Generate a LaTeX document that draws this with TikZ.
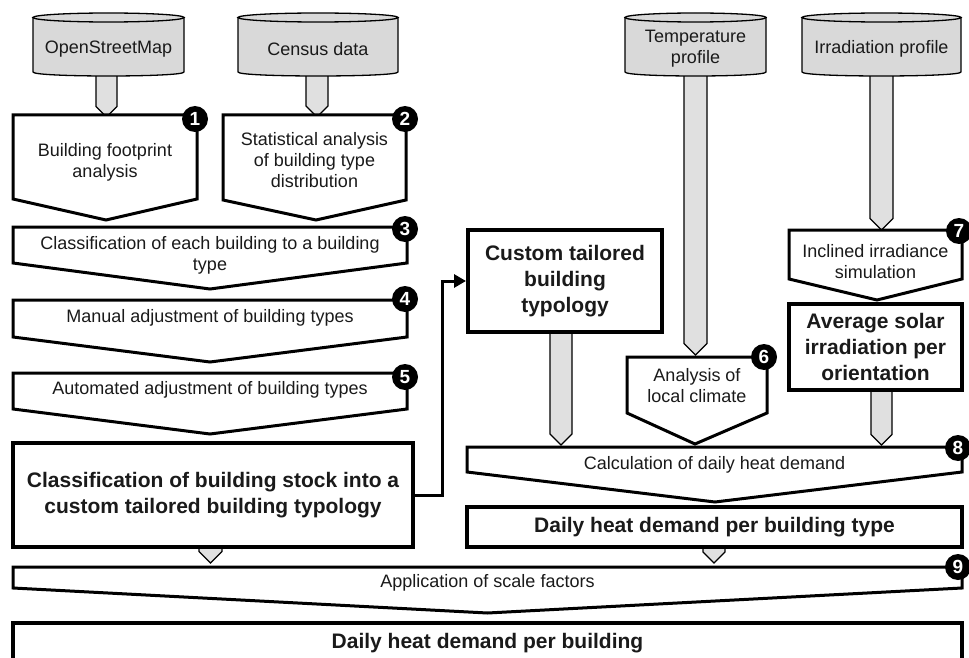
\documentclass[tikz,border=0pt]{standalone}
\usepackage{fontspec}
\setmainfont{Liberation Sans}
\usetikzlibrary{arrows.meta}
\definecolor{cylgray}{HTML}{D9D9D9}
\definecolor{shaftgray}{HTML}{E0E0E0}
\definecolor{textcol}{HTML}{1A1A1A}
\newcommand\procshape[5]{\draw[proc] (#1,#3) -- (#2,#3) -- (#2,#4) -- #5 -- (#1,#4) -- cycle;}
\newcommand\shaftshape[4]{\draw[shaft] (#1,#3) -- (#2,#3) -- (#2,{#4-(#2-#1)/2}) -- ({(#1+#2)/2},#4) -- (#1,{#4-(#2-#1)/2}) -- cycle;}
\newcommand\cylshape[4]{%
  \draw[cyl] (#1,{#3+4.5}) -- (#1,{#4-4}) .. controls (#1,{#4+1.33}) and (#2,{#4+1.33}) .. (#2,{#4-4}) -- (#2,{#3+4.5}) -- cycle;
  \draw[cyl] ({(#1+#2)/2},{#3+4.5}) ellipse [x radius={(#2-#1)/2}, y radius=4.5];}
\begin{document}
\begin{tikzpicture}[x=1pt,y=-1pt,
  cyl/.style={fill=cylgray, draw=black, line width=1.3pt},
  shaft/.style={fill=shaftgray, draw=black, line width=1.1pt, line join=miter},
  proc/.style={fill=white, draw=black, line width=3pt, line join=miter},
  resbox/.style={rectangle, fill=white, draw=black, line width=4pt, inner sep=0, align=center, text=textcol, font=\fontsize{21}{26}\selectfont\bfseries},
  txt/.style={align=center, text=textcol, font=\fontsize{18}{21}\selectfont, inner sep=0},
  btxt/.style={align=center, text=textcol, font=\fontsize{21}{26}\selectfont\bfseries, inner sep=0},
  badge/.style={circle, fill=black, text=white, inner sep=0, minimum size=26pt, font=\fontsize{19}{19}\selectfont\bfseries},
]
\useasboundingbox (0,0) rectangle (969,658);
\clip (0,0) rectangle (969,658);

% gray arrow shafts
\shaftshape{96}{117}{70}{117}
\shaftshape{306}{328}{70}{117}
\shaftshape{684}{707}{70}{355}
\shaftshape{870}{893}{70}{230}
\shaftshape{550}{572}{332}{445}
\shaftshape{871}{892}{390}{445}
\shaftshape{199}{222}{547}{563}
\shaftshape{703}{725}{547}{563}

% data sources
\cylshape{33}{184}{13}{76}
\cylshape{238}{398}{13}{76}
\cylshape{625}{766}{13}{76}
\cylshape{802}{961}{13}{76}
\node[txt] (osm) at (108.5,49) {OpenStreetMap};
\node[txt] (census) at (318,49) {Census data};
\node[txt] (temp) at (695.5,49) {Temperature\\profile};
\node[txt] (irr) at (881.5,49) {Irradiation profile};

% process steps
\procshape{13}{197}{115}{199}{(106,220)}
\procshape{223}{406}{115}{200}{(316,220)}
\procshape{13}{407}{227}{263}{(210,289)}
\procshape{13}{407}{300}{337}{(210,362)}
\procshape{13}{407}{373}{409}{(210,434)}
\procshape{789}{962}{230}{279}{(877,300)}
\procshape{627}{767}{357}{413}{(695,444)}
\procshape{467}{962}{447}{472}{(715,502)}
\procshape{13}{962}{567}{588}{(487.5,613)}

\node[txt] (p1) at (105,162.5) {Building footprint\\analysis};
\node[txt] (p2) at (314.5,160) {Statistical analysis\\of building type\\distribution};
\node[txt] (p3) at (210,255.5) {Classification of each building to a building\\type};
\node[txt] (p4) at (210,318) {Manual adjustment of building types};
\node[txt] (p5) at (210,390) {Automated adjustment of building types};
\node[txt] (p6) at (697,386) {Analysis of\\local climate};
\node[txt] (p7) at (875.5,262) {Inclined irradiance\\simulation};
\node[txt] (p8) at (714.5,465) {Calculation of daily heat demand};
\node[txt] (p9) at (487.5,583) {Application of scale factors};

% results
\node[resbox, minimum width=194pt, minimum height=102pt] (custom) at (565,281) {Custom tailored\\building\\typology};
\node[resbox, minimum width=173pt, minimum height=86pt] (avg) at (875.5,347) {Average solar\\irradiation per\\orientation};
\node[resbox, minimum width=400pt, minimum height=104pt] (class) at (213,495) {Classification of building stock into a\\custom tailored building typology};
\node[resbox, minimum width=495pt, minimum height=40pt] (type) at (714.5,527) {Daily heat demand per building type};
\node[resbox, minimum width=949pt, minimum height=70pt] (final) at (487.5,658) {};
\node[btxt] (finaltxt) at (487.5,643) {Daily heat demand per building};

% feedback arrow
\draw[line width=3pt, -{Triangle[length=12pt,width=13pt]}] (class.east) -- ++(27,0) |- (custom.west);

% badges
\node[badge] (b1) at (195,119) {1};
\node[badge] (b2) at (405,119) {2};
\node[badge] (b3) at (405,229) {3};
\node[badge] (b4) at (405,299) {4};
\node[badge] (b5) at (405,377) {5};
\node[badge] (b6) at (764,357) {6};
\node[badge] (b7) at (959,231) {7};
\node[badge] (b8) at (958,448) {8};
\node[badge] (b9) at (958,567) {9};
\end{tikzpicture}
\end{document}
